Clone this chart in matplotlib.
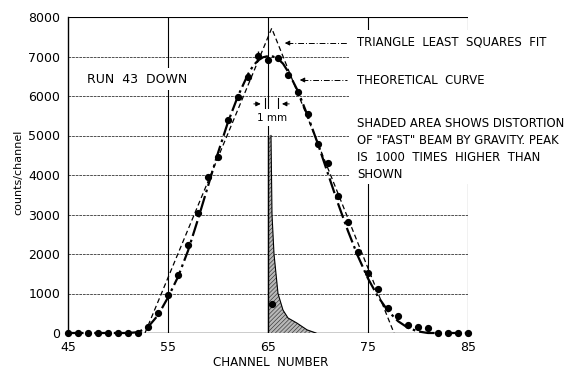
import matplotlib
matplotlib.use("Agg")
import matplotlib.pyplot as plt
from matplotlib.patches import Rectangle

plt.rcParams['font.family'] = ['DejaVu Sans']
plt.rcParams['hatch.linewidth'] = 0.45

# ---------------- data ----------------
channels = list(range(45, 86))
counts = [0, 0, 0, 0, 0, 0, 0, 0,
          160, 500, 960, 1470, 2230, 3030, 3950, 4460, 5390, 5970, 6480, 7010,
          6910, 6960, 6530, 6100, 5540, 4780, 4300, 3470, 2810, 2050, 1520, 1110,
          630, 430, 200, 150, 120,
          0, 0, 0, 0]
err_channel = 64
err_value = 7010
err_size = 130

fast_point_x = [65.4]
fast_point_y = [730]

theory_x = [45, 46, 47, 48, 49, 50, 51, 52, 53, 54, 55, 56, 57, 58, 59, 60, 61, 62,
            63, 63.5, 64, 64.5, 65, 65.5, 66, 66.5, 67, 68, 69, 70, 71, 72, 73, 74,
            75, 76, 77, 78, 79, 80, 81, 82, 83, 84, 85]
theory_y = [0, 0, 0, 0, 0, 0, 0, 20, 150, 450, 900, 1420, 2080, 2880, 3720, 4560,
            5340, 6000, 6550, 6760, 6900, 6980, 7010, 7000, 6940, 6820, 6620, 6120,
            5480, 4780, 4030, 3280, 2580, 1940, 1380, 920, 560, 300, 130, 40, 0,
            0, 0, 0, 0]

tri_x = [52.7, 65.37, 77.6]
tri_y = [0, 7715, 0]

fast_x = [65.3, 65.35, 65.4, 65.6, 66.0, 66.5, 67.0, 67.9, 68.9, 69.8]
fast_y = [5000, 4000, 3000, 2000, 1000, 580, 380, 250, 80, 0]
fast_left = 65.0

xticks = [45, 55, 65, 75, 85]
yticks = [0, 1000, 2000, 3000, 4000, 5000, 6000, 7000, 8000]
ytick_labels = ['0', '1000', '2000', '3000', '4000', '5000', '6000', '7000', '8000']

# ---------------- figure ----------------
W, H = 571, 369
fig = plt.figure(figsize=(W / 100, H / 100), dpi=100)
ax = fig.add_axes([68 / W, 1 - 333 / H, 400 / W, 316 / H])
ax.set_xlim(45, 85)
ax.set_ylim(0, 8000)

for s in ['top', 'right', 'bottom']:
    ax.spines[s].set_visible(False)
ax.spines['left'].set_linewidth(1.0)
ax.spines['left'].set_color('black')

ax.set_xticks(xticks)
ax.set_yticks(yticks)
ax.set_yticklabels(ytick_labels)
ax.tick_params(axis='both', length=0, labelsize=9)
ax.tick_params(axis='x', pad=5.5)
ax.tick_params(axis='y', pad=5.5)

# grid lines
for y in yticks[1:-1]:
    ax.plot([45, 85], [y, y], color='#444444', lw=0.65, ls=(0, (3, 1)), zorder=1)
ax.plot([45, 85], [8000, 8000], color='black', lw=0.8, zorder=1)
for x in xticks[1:]:
    ax.plot([x, x], [0, 8000], color='black', lw=0.8, zorder=1)
# baseline
ax.plot([52.2, 81.7], [0, 0], color='black', lw=1.0, zorder=1)

# white box behind right-hand notes
ax.add_patch(Rectangle((73.1, 3780), 14, 3880, facecolor='white', edgecolor='none',
                       zorder=2, clip_on=False))

# shaded fast-beam distortion
ax.fill_betweenx(fast_y, fast_left, fast_x, facecolor='#b8b8b8', edgecolor='#333333',
                 hatch='////////', linewidth=0, zorder=3)
ax.plot(fast_x, fast_y, color='black', lw=0.8, zorder=3)
ax.plot([fast_left, fast_left], [0, fast_y[0]], color='black', lw=1.0, zorder=3)

# triangle fit
ax.plot(tri_x, tri_y, color='black', lw=0.9, ls=(0, (4, 2.5)), zorder=4)
# theoretical curve
ax.plot(theory_x, theory_y, color='black', lw=1.6, ls=(0, (7, 1.8, 1.2, 1.8)),
        zorder=4, clip_on=False)
# data points
ax.plot(channels, counts, 'o', color='black', ms=4.2, zorder=5, clip_on=False)
ax.errorbar([err_channel], [err_value], yerr=[err_size], fmt='none', ecolor='black',
            elinewidth=1.0, capsize=0, zorder=5)
ax.plot(fast_point_x, fast_point_y, 'o', color='black', ms=4.2, zorder=5)

# 1 mm marker
ax.plot([64.7, 64.7], [5650, 5950], color='black', lw=0.8, zorder=4)
ax.plot([65.97, 65.97], [5650, 5950], color='black', lw=0.8, zorder=4)
ax.annotate('', xy=(64.55, 5800), xytext=(63.3, 5800),
            arrowprops=dict(arrowstyle='-|>', color='black', lw=0.7, mutation_scale=7),
            zorder=4)
ax.annotate('', xy=(66.12, 5800), xytext=(67.4, 5800),
            arrowprops=dict(arrowstyle='-|>', color='black', lw=0.7, mutation_scale=7),
            zorder=4)
ax.text(65.37, 5450, '1 mm', ha='center', va='center', fontsize=7.5, zorder=4,
        bbox=dict(facecolor='white', edgecolor='none', pad=2.5))

ax.text(51.95, 6430, 'RUN  43  DOWN', ha='center', va='center', fontsize=9, zorder=4,
        bbox=dict(facecolor='white', edgecolor='none', pad=3))

# leaders
ax.plot([66.9, 72.9], [7340, 7340], color='black', lw=0.7, ls=(0, (6, 2, 1, 2)), zorder=4)
ax.annotate('', xy=(66.4, 7340), xytext=(67.2, 7340),
            arrowprops=dict(arrowstyle='-|>', color='black', lw=0.7, mutation_scale=7),
            zorder=4)
ax.plot([68.4, 72.9], [6405, 6405], color='black', lw=0.7, ls=(0, (6, 2, 1, 2)), zorder=4)
ax.annotate('', xy=(67.9, 6405), xytext=(68.7, 6405),
            arrowprops=dict(arrowstyle='-|>', color='black', lw=0.7, mutation_scale=7),
            zorder=4)

notes = [(7370, 'TRIANGLE  LEAST  SQUARES  FIT'),
         (6405, 'THEORETICAL  CURVE'),
         (5316, 'SHADED AREA SHOWS DISTORTION'),
         (4886, 'OF "FAST" BEAM BY GRAVITY. PEAK'),
         (4440, 'IS  1000  TIMES  HIGHER  THAN'),
         (4000, 'SHOWN')]
for y, t in notes:
    ax.text(73.9, y, t, ha='left', va='center', fontsize=8.4, zorder=4, clip_on=False)

fig.text(271 / W, 1 - 363 / H, 'CHANNEL  NUMBER', ha='center', va='center', fontsize=8.6)
fig.text(18 / W, 1 - 172 / H, 'counts/channel', ha='center', va='center', fontsize=8,
         rotation=90)

fig.savefig('out.png', dpi=100)
